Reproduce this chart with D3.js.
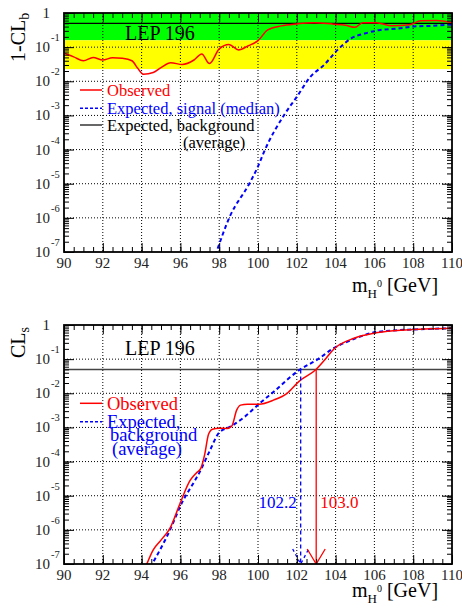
<!DOCTYPE html>
<html>
<head>
<meta charset="utf-8">
<script src="https://cdn.jsdelivr.net/npm/d3@7"></script>
<style>
  body { margin: 0; background: #fff; }
  svg, svg text { font-family: "Liberation Serif", "Times New Roman", serif; }
</style>
</head>
<body>
<svg id="chart" width="462" height="608" font-family="Liberation Serif, serif"></svg>
<script>
// ---- data ----
// top panel: 1-CL_b
const massObsB = [90.0, 90.5, 91.0, 91.5, 92.0, 92.5, 93.0, 93.5, 93.8, 94.1, 94.6, 95.0, 95.5, 96.1,
  96.7, 97.1, 97.5, 98.0, 98.5, 99.0, 99.5, 100.0, 100.5, 101.2, 102.0, 102.9, 103.9, 104.5, 105.0,
  105.4, 106.1, 106.9, 107.8, 108.4, 109.2, 110.0];
const obsB = [0.066, 0.052, 0.040, 0.050, 0.042, 0.049, 0.047, 0.040, 0.024, 0.016, 0.018, 0.025,
  0.035, 0.031, 0.042, 0.063, 0.033, 0.089, 0.12, 0.083, 0.11, 0.155, 0.32, 0.42, 0.48, 0.52, 0.47,
  0.44, 0.38, 0.52, 0.52, 0.42, 0.45, 0.59, 0.60, 0.52];
const massSig = [97.8, 98.55, 99.55, 100.0, 100.3, 101.4, 102.0, 102.7, 103.4, 104.1, 104.8, 105.5,
  106.3, 107.2, 108.0, 108.9, 109.8, 110.0];
const expSig = [0.8e-7, 1.1e-6, 1.0e-5, 3.2e-5, 8.3e-5, 1.15e-3, 3.5e-3, 0.0135, 0.030, 0.083, 0.18,
  0.25, 0.32, 0.35, 0.40, 0.42, 0.45, 0.46];
const bandOneSigma = 0.1587;
const bandTwoSigma = 0.02275;
const bkgAverage = 0.5;

// bottom panel: CL_s
const massObsS = [94.2, 94.6, 95.0, 95.46, 95.98, 96.5, 96.8, 97.05, 97.25, 97.45, 97.65, 98.0, 98.4,
  98.65, 98.9, 99.1, 99.46, 100.06, 100.8, 101.5, 102.1, 102.96, 103.5, 103.9, 104.95, 105.98,
  107.0, 108.0, 108.9, 110.0];
const obsS = [0.8e-7, 2.6e-7, 5.0e-7, 1.1e-6, 5.9e-6, 2.8e-5, 4.5e-5, 6.3e-5, 1.6e-4, 6.3e-4, 8.9e-4,
  9.5e-4, 9.3e-4, 1.1e-3, 3.2e-3, 4.5e-3, 4.8e-3, 4.8e-3, 6.3e-3, 0.010, 0.022, 0.048, 0.105, 0.195,
  0.41, 0.575, 0.68, 0.74, 0.78, 0.81];
const massBkg = [94.45, 95.46, 96.06, 96.75, 97.0, 97.5, 98.0, 98.6, 99.29, 100.06, 100.84, 102.13,
  103.07, 103.9, 104.8, 105.8, 106.8, 108.0, 110.0];
const expBkg = [0.8e-7, 9.8e-7, 5.9e-6, 2.8e-5, 5.0e-5, 2.0e-4, 7.1e-4, 1.07e-3, 2.0e-3, 4.9e-3,
  1.15e-2, 0.048, 0.098, 0.21, 0.36, 0.575, 0.68, 0.74, 0.80];
const clsLevel = 0.05;
const limitExp = 102.2;
const limitObs = 103.0;

// axes
const xTickLabels = [90, 92, 94, 96, 98, 100, 102, 104, 106, 108, 110];
const xGrid = [92, 94, 96, 98, 100, 102, 104, 106, 108];
const decades = [1, 1e-1, 1e-2, 1e-3, 1e-4, 1e-5, 1e-6, 1e-7];
const decadeExp = ["", "-1", "-2", "-3", "-4", "-5", "-6", "-7"];

const FONT = 'Liberation Serif, Times New Roman, serif';
const svg = d3.select('#chart');
const left = 64, right = 452;

const x = d3.scaleLinear().domain([90, 110]).range([left, right]);

function panel(id, top, bottom) {
  const y = d3.scaleLog().domain([1e-7, 1]).range([bottom, top]);
  const g = svg.append('g').attr('font-family', FONT);

  g.append('clipPath').attr('id', 'clip' + id)
    .append('rect').attr('x', left).attr('y', top)
    .attr('width', right - left).attr('height', bottom - top);

  const plot = g.append('g').attr('clip-path', 'url(#clip' + id + ')');
  return { y, g, plot, top, bottom };
}

function grid(p) {
  p.plot.selectAll('.gx').data(xGrid).enter().append('line')
    .attr('x1', d => x(d)).attr('x2', d => x(d))
    .attr('y1', p.top).attr('y2', p.bottom)
    .attr('stroke', '#000').attr('stroke-width', 1).attr('stroke-dasharray', '1,2');
  p.plot.selectAll('.gy').data(decades.slice(1, 7)).enter().append('line')
    .attr('x1', left).attr('x2', right)
    .attr('y1', d => p.y(d)).attr('y2', d => p.y(d))
    .attr('stroke', '#000').attr('stroke-width', 1).attr('stroke-dasharray', '1,2');
}

function frame(p, titleY) {
  const g = p.g;
  const minorX = x.ticks(40);
  const minorY = p.y.ticks().filter(v => v >= 1e-7 && v <= 1);
  // bottom / top ticks
  g.append('g').attr('transform', 'translate(0,' + p.bottom + ')')
    .call(d3.axisBottom(x).tickValues(minorX).tickSize(-5).tickFormat(''));
  g.append('g').attr('transform', 'translate(0,' + p.bottom + ')')
    .call(d3.axisBottom(x).tickValues(xTickLabels).tickSize(-9).tickFormat(''));
  g.append('g').attr('transform', 'translate(0,' + p.top + ')')
    .call(d3.axisTop(x).tickValues(minorX).tickSize(-5).tickFormat(''));
  g.append('g').attr('transform', 'translate(0,' + p.top + ')')
    .call(d3.axisTop(x).tickValues(xTickLabels).tickSize(-9).tickFormat(''));
  // left / right ticks
  g.append('g').attr('transform', 'translate(' + left + ',0)')
    .call(d3.axisLeft(p.y).tickValues(minorY).tickSize(-5).tickFormat(''));
  g.append('g').attr('transform', 'translate(' + left + ',0)')
    .call(d3.axisLeft(p.y).tickValues(decades).tickSize(-10).tickFormat(''));
  g.append('g').attr('transform', 'translate(' + right + ',0)')
    .call(d3.axisRight(p.y).tickValues(minorY).tickSize(-5).tickFormat(''));
  g.append('g').attr('transform', 'translate(' + right + ',0)')
    .call(d3.axisRight(p.y).tickValues(decades).tickSize(-10).tickFormat(''));
  g.selectAll('.domain').remove();
  g.selectAll('.tick line').attr('stroke', '#000').attr('stroke-width', 1);

  g.append('rect').attr('x', left).attr('y', p.top)
    .attr('width', right - left).attr('height', p.bottom - p.top)
    .attr('fill', 'none').attr('stroke', '#000').attr('stroke-width', 1.8);

  // tick labels
  g.selectAll('.xl').data(xTickLabels).enter().append('text')
    .attr('x', d => x(d)).attr('y', p.bottom + 16)
    .attr('text-anchor', 'middle').attr('font-size', 15).attr('fill', '#222')
    .attr('font-family', FONT)
    .text(d => d);
  decades.forEach((d, i) => {
    const yy = p.y(d);
    g.append('text').attr('x', 50).attr('y', yy + 5)
      .attr('text-anchor', 'end').attr('font-size', 15).attr('fill', '#222')
      .attr('font-family', FONT)
      .text(i === 0 ? '1' : '10');
    if (i > 0) {
      g.append('text').attr('x', 51).attr('y', yy - 6)
        .attr('font-size', 10.5).attr('fill', '#222').attr('font-family', FONT)
        .text(decadeExp[i]);
    }
  });

  // x title
  const t = g.append('text').attr('x', 352).attr('y', titleY)
    .attr('font-size', 20).attr('fill', '#000').attr('font-family', FONT);
  t.append('tspan').text('m');
  t.append('tspan').attr('font-size', 13).attr('dy', 6).text('H');
  t.append('tspan').attr('font-size', 10).attr('dy', -11).text('0');
  t.append('tspan').attr('dy', 5).text('\u00a0[GeV]');
}

function curve(p, xs, ys, color, width, dash) {
  const line = d3.line()
    .x(d => x(d[0]))
    .y(d => p.y(d[1]))
    .curve(d3.curveMonotoneX);
  const path = p.plot.append('path')
    .attr('d', line(d3.zip(xs, ys)))
    .attr('fill', 'none').attr('stroke', color).attr('stroke-width', width);
  if (dash) path.attr('stroke-dasharray', dash);
}

// ---------------- top panel ----------------
const pTop = panel('a', 13, 252);
pTop.plot.append('rect').attr('x', left).attr('width', right - left)
  .attr('y', pTop.y(1)).attr('height', pTop.y(bandOneSigma) - pTop.y(1))
  .attr('fill', '#00ff00');
pTop.plot.append('rect').attr('x', left).attr('width', right - left)
  .attr('y', pTop.y(bandOneSigma)).attr('height', pTop.y(bandTwoSigma) - pTop.y(bandOneSigma))
  .attr('fill', '#ffff00');
grid(pTop);
pTop.plot.append('line').attr('x1', left).attr('x2', right)
  .attr('y1', pTop.y(bkgAverage)).attr('y2', pTop.y(bkgAverage))
  .attr('stroke', '#000').attr('stroke-width', 1.2);
curve(pTop, massSig, expSig, '#0000ff', 2, '4,3');
curve(pTop, massObsB, obsB, '#ff0000', 1.5);
frame(pTop, 292);

pTop.g.append('text').attr('x', 125).attr('y', 40).attr('font-size', 20).text('LEP 196');

// legend top
const legTop = pTop.g;
legTop.append('line').attr('x1', 80).attr('x2', 102).attr('y1', 90).attr('y2', 90)
  .attr('stroke', '#ff0000').attr('stroke-width', 1.5);
legTop.append('text').attr('x', 107).attr('y', 96).attr('font-size', 16.5).attr('fill', '#ff0000').text('Observed');
legTop.append('line').attr('x1', 80).attr('x2', 102).attr('y1', 108.3).attr('y2', 108.3)
  .attr('stroke', '#0000ff').attr('stroke-width', 1.5).attr('stroke-dasharray', '3,2');
legTop.append('text').attr('x', 107).attr('y', 114).attr('font-size', 16.5).attr('fill', '#0000ff')
  .text('Expected, signal (median)');
legTop.append('line').attr('x1', 80).attr('x2', 102).attr('y1', 125).attr('y2', 125)
  .attr('stroke', '#000').attr('stroke-width', 1.2);
legTop.append('text').attr('x', 107).attr('y', 131).attr('font-size', 16.5).attr('fill', '#000')
  .text('Expected, background');
legTop.append('text').attr('x', 183).attr('y', 148).attr('font-size', 16.5).attr('fill', '#000')
  .text('(average)');

// y title top
const yt1 = pTop.g.append('text').attr('transform', 'translate(25,62) rotate(-90)')
  .attr('font-size', 20);
yt1.append('tspan').text('1-CL');
yt1.append('tspan').attr('font-size', 14).attr('dy', 4).text('b');

// ---------------- bottom panel ----------------
const pBot = panel('b', 325, 564);
grid(pBot);
pBot.plot.append('line').attr('x1', left).attr('x2', right)
  .attr('y1', pBot.y(clsLevel)).attr('y2', pBot.y(clsLevel))
  .attr('stroke', '#444').attr('stroke-width', 1.5);
curve(pBot, massBkg, expBkg, '#0000ff', 2, '4,3');
curve(pBot, massObsS, obsS, '#ff0000', 1.5);

// limit arrows
const arrow = d3.line();
pBot.plot.append('line').attr('x1', x(limitExp)).attr('x2', x(limitExp))
  .attr('y1', pBot.y(clsLevel)).attr('y2', pBot.y(1e-7))
  .attr('stroke', '#0000ff').attr('stroke-width', 1.3).attr('stroke-dasharray', '4,3');
pBot.plot.append('path')
  .attr('d', arrow([[x(limitExp) - 8, pBot.bottom - 15], [x(limitExp), pBot.bottom], [x(limitExp) + 8, pBot.bottom - 15]]))
  .attr('fill', 'none').attr('stroke', '#0000ff').attr('stroke-width', 1.3).attr('stroke-dasharray', '3,3');
pBot.plot.append('line').attr('x1', x(limitObs)).attr('x2', x(limitObs))
  .attr('y1', pBot.y(clsLevel)).attr('y2', pBot.y(1e-7))
  .attr('stroke', '#ff0000').attr('stroke-width', 1.3);
pBot.plot.append('path')
  .attr('d', arrow([[x(limitObs) - 9, pBot.bottom - 15], [x(limitObs), pBot.bottom], [x(limitObs) + 9, pBot.bottom - 15]]))
  .attr('fill', 'none').attr('stroke', '#ff0000').attr('stroke-width', 1.3);
frame(pBot, 597);

pBot.g.append('text').attr('x', x(limitExp) - 4).attr('y', 508).attr('text-anchor', 'end')
  .attr('font-size', 17).attr('fill', '#0000ff').text(limitExp.toFixed(1));
pBot.g.append('text').attr('x', x(limitObs) + 4).attr('y', 508)
  .attr('font-size', 17).attr('fill', '#ff0000').text(limitObs.toFixed(1));

pBot.g.append('text').attr('x', 125).attr('y', 355).attr('font-size', 20).text('LEP 196');

// legend bottom
const legBot = pBot.g;
legBot.append('line').attr('x1', 80).attr('x2', 102).attr('y1', 403.3).attr('y2', 403.3)
  .attr('stroke', '#ff0000').attr('stroke-width', 1.5);
legBot.append('text').attr('x', 107).attr('y', 410).attr('font-size', 18.5).attr('fill', '#ff0000').text('Observed');
legBot.append('line').attr('x1', 80).attr('x2', 102).attr('y1', 421.7).attr('y2', 421.7)
  .attr('stroke', '#0000ff').attr('stroke-width', 1.5).attr('stroke-dasharray', '3,2');
legBot.append('text').attr('x', 107).attr('y', 427.5).attr('font-size', 18.5).attr('fill', '#0000ff').text('Expected,');
legBot.append('text').attr('x', 110).attr('y', 441).attr('font-size', 18.5).attr('fill', '#0000ff').text('background');
legBot.append('text').attr('x', 112).attr('y', 454.5).attr('font-size', 18.5).attr('fill', '#0000ff').text('(average)');

// y title bottom
const yt2 = pBot.g.append('text').attr('transform', 'translate(25,358) rotate(-90)')
  .attr('font-size', 20);
yt2.append('tspan').text('CL');
yt2.append('tspan').attr('font-size', 14).attr('dy', 4).text('s');
</script>
</body>
</html>
